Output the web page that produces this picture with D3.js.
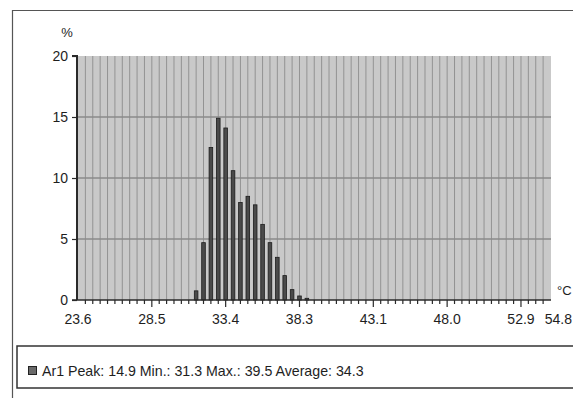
<!DOCTYPE html>
<html>
<head>
<meta charset="utf-8">
<script src="https://cdn.jsdelivr.net/npm/d3@7"></script>
<style>
  body { margin: 0; background: #fff; }
  svg { display: block; font-family: "Liberation Sans", Arial, sans-serif; }
</style>
</head>
<body>
<svg id="chart" width="573" height="398"></svg>
<script>
// Temperature histogram: share of pixels (%) per temperature bin
const binCount = 64;
const barBins   = [16, 17, 18, 19, 20, 21, 22, 23, 24, 25, 26, 27, 28, 29, 30, 31];
const barValues = [0.75, 4.7, 12.5, 14.9, 14.1, 10.6, 8.0, 8.5, 7.8, 6.2, 4.7, 3.5, 2.0, 0.85, 0.33, 0.14];
const xTickBins   = [0, 10, 20, 30, 40, 50, 60];
const xTickLabels = ["23.6", "28.5", "33.4", "38.3", "43.1", "48.0", "52.9"];
const xEndLabel = "54.8";
const yTicks = [0, 5, 10, 15, 20];
const yGridTicks = [5, 10, 15];
const legendText = "Ar1 Peak: 14.9 Min.: 31.3 Max.: 39.5 Average: 34.3";

const svg = d3.select("#chart");
const x = d3.scaleLinear().domain([0, binCount]).range([78, 550.5]);
const y = d3.scaleLinear().domain([0, 20]).range([300, 56]);
const plotLeft = 77, plotRight = 551;

// outer frame
svg.append("path")
  .attr("d", "M12.5,398 V10.5 H573")
  .attr("fill", "none").attr("stroke", "#555").attr("stroke-width", 1.2);

// plot background
svg.append("rect")
  .attr("x", plotLeft).attr("y", y(20))
  .attr("width", plotRight - plotLeft).attr("height", y(0) - y(20))
  .attr("fill", "#c9c9c9");

// vertical grid, one line per bin
svg.append("g").selectAll("line")
  .data(d3.range(1, binCount))
  .join("line")
  .attr("x1", d => x(d)).attr("x2", d => x(d))
  .attr("y1", y(20)).attr("y2", y(0))
  .attr("stroke", "#939393").attr("stroke-width", 1);

// horizontal grid
svg.append("g").selectAll("line")
  .data(yGridTicks)
  .join("line")
  .attr("x1", plotLeft).attr("x2", plotRight)
  .attr("y1", d => y(d)).attr("y2", d => y(d))
  .attr("stroke", "#8a8a8a").attr("stroke-width", 1.5);

// bars
const barW = 3.6;
svg.append("g").selectAll("rect")
  .data(barBins.map((b, i) => ({ bin: b, v: barValues[i] })))
  .join("rect")
  .attr("x", d => x(d.bin) - barW / 2)
  .attr("y", d => y(d.v))
  .attr("width", barW)
  .attr("height", d => y(0) - y(d.v))
  .attr("fill", "#4a4a4a").attr("stroke", "#1c1c1c").attr("stroke-width", 0.8);

// y axis
const yAxis = svg.append("g").attr("transform", `translate(${plotLeft},0)`)
  .call(d3.axisLeft(y).tickValues(yTicks).tickSize(5).tickPadding(4));
yAxis.select(".domain").attr("stroke", "#2a2a2a").attr("stroke-width", 2)
  .attr("d", `M-5,${y(20)}H0V${y(0)}`);
yAxis.selectAll(".tick line").attr("stroke", "#2a2a2a").attr("stroke-width", 1.2);
yAxis.selectAll("text").attr("font-size", 14).attr("fill", "#1e1e1e")
  .attr("font-family", "Liberation Sans, Arial, sans-serif");

// x axis: minor ticks per bin, labelled ticks every ten bins
const xAxis = svg.append("g").attr("transform", `translate(0,${y(0)})`);
xAxis.append("line")
  .attr("x1", plotLeft - 5).attr("x2", plotRight)
  .attr("stroke", "#2a2a2a").attr("stroke-width", 1.6);
xAxis.selectAll("line.minor")
  .data(d3.range(1, binCount))
  .join("line").attr("class", "minor")
  .attr("x1", d => x(d)).attr("x2", d => x(d))
  .attr("y1", 0).attr("y2", d => (d % 10 === 0 ? 7 : 4))
  .attr("stroke", "#2a2a2a").attr("stroke-width", 1.2);
xAxis.selectAll("text.lbl")
  .data(xTickBins.map((b, i) => ({ bin: b, label: xTickLabels[i] })))
  .join("text").attr("class", "lbl")
  .attr("x", d => x(d.bin)).attr("y", 24)
  .attr("text-anchor", "middle")
  .attr("font-size", 14).attr("fill", "#1e1e1e")
  .text(d => d.label);
xAxis.append("text")
  .attr("x", 572).attr("y", 24)
  .attr("text-anchor", "end")
  .attr("font-size", 14).attr("fill", "#1e1e1e")
  .text(xEndLabel);

// unit labels
svg.append("text").attr("x", 67).attr("y", 37).attr("text-anchor", "middle")
  .attr("font-size", 13).attr("fill", "#1e1e1e").text("%");
svg.append("text").attr("x", 557).attr("y", 295)
  .attr("font-size", 13).attr("fill", "#1e1e1e").text("°C");

// legend
const legend = svg.append("g");
legend.append("rect")
  .attr("x", 17).attr("y", 346).attr("width", 570).attr("height", 42)
  .attr("fill", "#fff").attr("stroke", "#333").attr("stroke-width", 1.5);
legend.append("rect")
  .attr("x", 28.5).attr("y", 366.5).attr("width", 8).attr("height", 8)
  .attr("fill", "#6a6a6a").attr("stroke", "#222").attr("stroke-width", 1);
legend.append("text")
  .attr("x", 42).attr("y", 376)
  .attr("font-size", 14.2).attr("fill", "#1e1e1e")
  .text(legendText);
</script>
</body>
</html>
